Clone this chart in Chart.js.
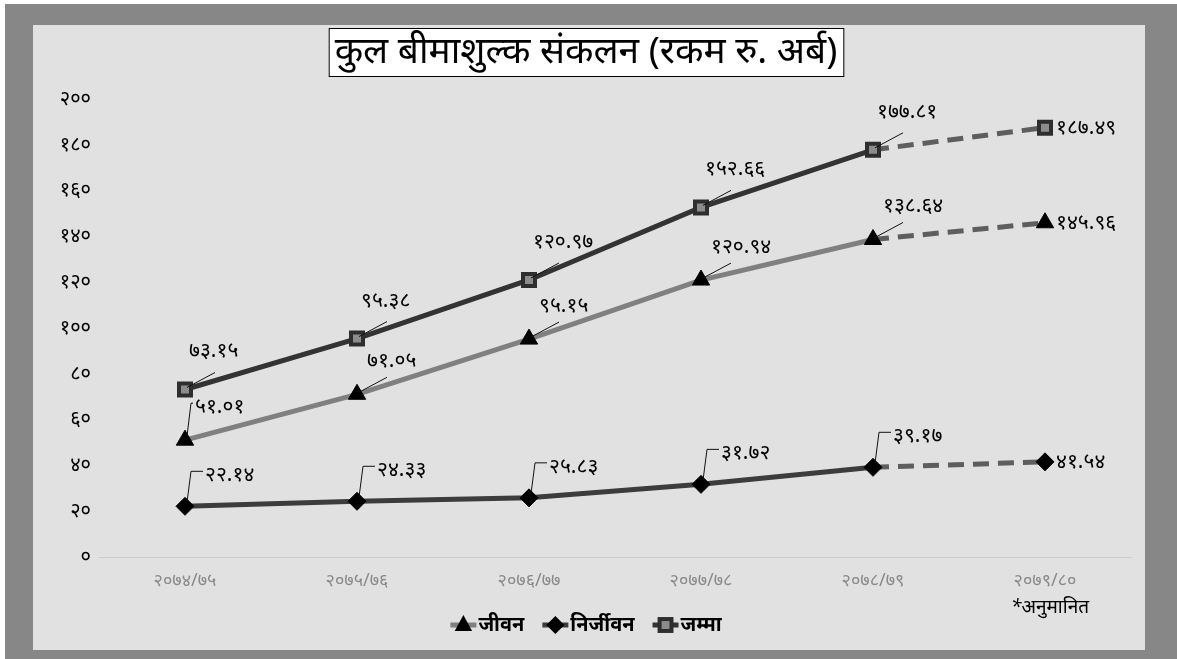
<!DOCTYPE html>
<html>
<head>
<meta charset="utf-8">
<script src="https://cdn.jsdelivr.net/npm/chart.js@4.4.0/dist/chart.umd.min.js"></script>
<style>
  html, body { margin: 0; padding: 0; background: #fff; }
  #frame { position: absolute; left: 5px; top: 4px; right: 0; bottom: 0; background: #878787; }
  #panel { position: absolute; left: 28px; top: 21px; width: 1112px; height: 625px; background: #e1e1e1; }
</style>
</head>
<body>
<div id="frame">
  <div id="panel"><canvas id="linechart" width="1112" height="625"></canvas></div>
</div>
<script>
const categories = ['२०७४/७५', '२०७५/७६', '२०७६/७७', '२०७७/७८', '२०७८/७९', '२०७९/८०'];
const seriesNames = ['जीवन', 'निर्जीवन', 'जम्मा'];
const lifeValues = [51.01, 71.05, 95.15, 120.94, 138.64, 145.96];
const nonLifeValues = [22.14, 24.33, 25.83, 31.72, 39.17, 41.54];
const totalValues = [73.15, 95.38, 120.97, 152.66, 177.81, 187.49];
const yTickValues = [0, 20, 40, 60, 80, 100, 120, 140, 160, 180, 200];
const titleText = 'कुल बीमाशुल्क संकलन (रकम रु. अर्ब)';
const noteText = '*अनुमानित';

const devDigits = '०१२३४५६७८९';
function toDev(s) {
    return String(s).replace(/[0-9]/g, d => devDigits[+d]);
}

const FONT = "'Noto Sans', sans-serif";

// last segment is a projection -> dashed
const dashedLast = {
    borderDash: c => c.p1DataIndex === categories.length - 1 ? [16, 9] : undefined,
    borderColor: c => c.p1DataIndex === categories.length - 1 ? '#5e5e5e' : undefined
};

// label placement per series (dx, dy from point, leader style)
const labelStyle = [
    { dx: 10, dy: -33, leader: 'slant' },
    { dx: 20, dy: -31, leader: 'elbow' },
    { dx: 4, dy: -38, leader: 'slant' }
];

const pointLabels = {
    id: 'pointLabels',
    afterDatasetsDraw(chart) {
        const ctx = chart.ctx;
        ctx.save();
        ctx.font = '21px ' + FONT;
        ctx.fillStyle = '#000';
        ctx.strokeStyle = '#111';
        ctx.lineWidth = 1;
        ctx.textBaseline = 'middle';
        chart.data.datasets.forEach((ds, di) => {
            const meta = chart.getDatasetMeta(di);
            const st = labelStyle[di];
            meta.data.forEach((pt, i) => {
                const txt = toDev(ds.data[i].toFixed(2));
                if (i === ds.data.length - 1) {
                    ctx.textAlign = 'left';
                    ctx.fillText(txt, pt.x + 11, pt.y);
                    return;
                }
                const tx = pt.x + st.dx, ty = pt.y + st.dy;
                ctx.textAlign = 'left';
                ctx.fillText(txt, tx, ty);
                ctx.beginPath();
                if (st.leader === 'elbow' || (di === 0 && i === 0)) {
                    ctx.moveTo(pt.x + 2, pt.y - 4);
                    ctx.lineTo(pt.x + 6, ty - 4);
                    ctx.lineTo(tx - 2, ty - 4);
                } else {
                    ctx.moveTo(pt.x + 2, pt.y - 2);
                    ctx.lineTo(pt.x + 30, pt.y - 17);
                }
                ctx.stroke();
            });
        });
        ctx.restore();
    }
};

const decorations = {
    id: 'decorations',
    afterDraw(chart) {
        const ctx = chart.ctx;
        const w = chart.width;
        ctx.save();
        // boxed title
        ctx.font = '37px ' + FONT;
        const tw = ctx.measureText(titleText).width;
        const bw = tw + 12, bx = w / 2 - 3 - bw / 2;
        ctx.fillStyle = '#fff';
        ctx.fillRect(bx, 3, bw, 48);
        ctx.strokeStyle = '#000';
        ctx.lineWidth = 1;
        ctx.strokeRect(bx + 0.5, 3.5, bw, 48);
        ctx.fillStyle = '#000';
        ctx.textAlign = 'center';
        ctx.textBaseline = 'middle';
        ctx.fillText(titleText, bx + bw / 2, 27);

        // note under last category
        const xs = chart.scales.x;
        ctx.font = 'italic 19px ' + FONT;
        ctx.fillText(noteText, xs.getPixelForValue(categories.length - 1) + 5, 583);

        // legend
        ctx.font = 'bold 20px ' + FONT;
        const cy = 600;
        const items = chart.data.datasets.map(ds => ({ ds, tw: ctx.measureText(ds.label).width }));
        const seg = 26, gap = 18;
        let total = items.reduce((a, it) => a + seg + 2 + it.tw, 0) + gap * (items.length - 1);
        let x = w / 2 - 3 - total / 2;
        items.forEach(it => {
            ctx.strokeStyle = it.ds.borderColor;
            ctx.lineWidth = 5;
            ctx.beginPath();
            ctx.moveTo(x, cy);
            ctx.lineTo(x + seg, cy);
            ctx.stroke();
            drawMarker(ctx, it.ds, x + seg / 2, cy);
            ctx.fillStyle = '#000';
            ctx.textAlign = 'left';
            ctx.fillText(it.ds.label, x + seg + 2, cy);
            x += seg + 2 + it.tw + gap;
        });
        ctx.restore();
    }
};

function drawMarker(ctx, ds, x, y) {
    ctx.save();
    ctx.fillStyle = ds.pointBackgroundColor;
    ctx.strokeStyle = ds.pointBorderColor;
    ctx.lineWidth = ds.pointBorderWidth;
    const r = ds.pointRadius;
    ctx.beginPath();
    if (ds.pointStyle === 'triangle') {
        ctx.moveTo(x, y - r);
        ctx.lineTo(x + r * 0.87, y + r * 0.6);
        ctx.lineTo(x - r * 0.87, y + r * 0.6);
        ctx.closePath();
        ctx.fill();
    } else if (ds.pointStyle === 'rectRot') {
        ctx.moveTo(x, y - r);
        ctx.lineTo(x + r, y);
        ctx.lineTo(x, y + r);
        ctx.lineTo(x - r, y);
        ctx.closePath();
        ctx.fill();
    } else {
        const s = r * 0.7;
        ctx.fillRect(x - s, y - s, 2 * s, 2 * s);
        ctx.strokeRect(x - s, y - s, 2 * s, 2 * s);
    }
    ctx.restore();
}

const ctx = document.getElementById('linechart').getContext('2d');
const linechart = new Chart(ctx, {
    type: 'line',
    data: {
        labels: categories,
        datasets: [{
            label: seriesNames[0],
            data: lifeValues,
            borderColor: '#808080',
            borderWidth: 5,
            pointStyle: 'triangle',
            pointRadius: 10,
            pointBackgroundColor: '#000',
            pointBorderColor: '#000',
            pointBorderWidth: 1,
            segment: dashedLast
        }, {
            label: seriesNames[1],
            data: nonLifeValues,
            borderColor: '#3c3c3c',
            borderWidth: 5,
            pointStyle: 'rectRot',
            pointRadius: 9,
            pointBackgroundColor: '#000',
            pointBorderColor: '#000',
            pointBorderWidth: 1,
            segment: dashedLast
        }, {
            label: seriesNames[2],
            data: totalValues,
            borderColor: '#333333',
            borderWidth: 5,
            pointStyle: 'rect',
            pointRadius: 8.5,
            pointBackgroundColor: '#8c8c8c',
            pointBorderColor: '#2e2e2e',
            pointBorderWidth: 4,
            segment: dashedLast
        }]
    },
    options: {
        responsive: false,
        animation: false,
        layout: { padding: { top: 74, right: 14, left: 0, bottom: 0 } },
        plugins: {
            legend: { display: false },
            title: { display: false },
            tooltip: { enabled: false }
        },
        scales: {
            x: {
                offset: true,
                grid: { display: false, drawTicks: false },
                border: { color: '#cccccc', width: 1 },
                ticks: { color: '#8a8a8a', font: { family: FONT, size: 18 }, padding: 13 },
                afterFit: s => { s.height = 93; }
            },
            y: {
                min: 0,
                max: 200,
                afterBuildTicks: s => { s.ticks = yTickValues.map(v => ({ value: v })); },
                grid: { display: false, drawTicks: false },
                border: { display: false },
                ticks: {
                    color: '#000',
                    font: { family: FONT, size: 20 },
                    padding: 8,
                    callback: v => toDev(v)
                },
                afterFit: s => { s.width = 66; }
            }
        }
    },
    plugins: [pointLabels, decorations]
});
</script>
</body>
</html>
